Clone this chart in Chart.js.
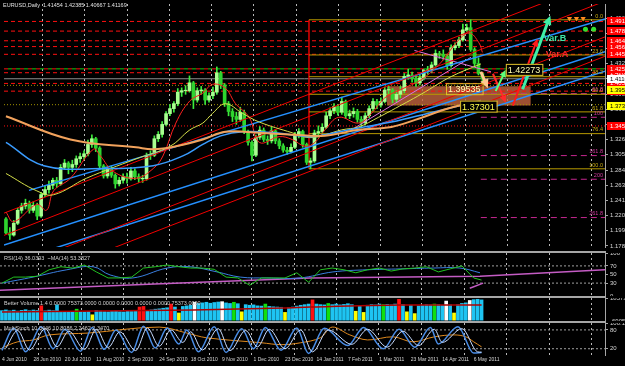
<!DOCTYPE html>
<html>
<head>
<meta charset="utf-8">
<title>EURUSD Daily</title>
<script src="https://cdn.jsdelivr.net/npm/chart.js@4.4.1/dist/chart.umd.min.js"></script>
<style>
  body { margin: 0; background: #000; }
  #wrap { position: relative; width: 625px; height: 366px; background: #000; overflow: hidden; }
  #wrap canvas { position: absolute; left: 0; }
  .sep { position: absolute; left: 0; width: 606px; height: 2px; background: #a6a6a6; }
</style>
</head>
<body>
<div id="wrap">
  <canvas id="mainChart" width="625" height="251" style="top:0"></canvas>
  <div class="sep" style="top:251px"></div>
  <canvas id="rsiChart" width="625" height="43" style="top:253px"></canvas>
  <div class="sep" style="top:296px"></div>
  <canvas id="volChart" width="625" height="23" style="top:298px"></canvas>
  <div class="sep" style="top:321px"></div>
  <canvas id="stoChart" width="625" height="43" style="top:323px"></canvas>
</div>
<script>
// one candle = two trading days, slot 0 = 4 Jun 2010
const dateLabels = ['4 Jun 2010','28 Jun 2010','20 Jul 2010','11 Aug 2010','2 Sep 2010','24 Sep 2010','18 Oct 2010','9 Nov 2010','1 Dec 2010','23 Dec 2010','14 Jan 2011','7 Feb 2011','1 Mar 2011','23 Mar 2011','14 Apr 2011','6 May 2011'];
const labelSlots = [0,8,16,24,32,40,48,56,64,72,80,88,96,104,112,120];
const gridSlots = [9.4,20.2,31.0,41.9,52.7,63.5,74.3,85.1,95.9,106.7,117.6,128.4,139.2,150.0];

const firstOpen = 1.2160;
const closes = [1.1965,1.1935,1.2100,1.2280,1.2340,1.2380,1.2280,1.2350,1.2200,1.2500,
1.2570,1.2630,1.2700,1.2650,1.2880,1.2940,1.2880,1.2920,1.3000,1.3030,
1.3070,1.3200,1.3280,1.3150,1.2900,1.2760,1.2870,1.2770,1.2650,1.2700,
1.2750,1.2720,1.2830,1.2750,1.2720,1.2720,1.3050,1.3050,1.3280,1.3340,
1.3480,1.3630,1.3700,1.3770,1.3930,1.3950,1.3950,1.4060,1.3820,1.3950,
1.3960,1.3820,1.3880,1.3930,1.4200,1.4030,1.3770,1.3660,1.3590,1.3550,
1.3650,1.3380,1.3230,1.3050,1.3300,1.3400,1.3270,1.3250,1.3390,1.3250,
1.3180,1.3120,1.3100,1.3160,1.3330,1.3380,1.3200,1.2950,1.2970,1.3360,
1.3380,1.3440,1.3600,1.3670,1.3730,1.3650,1.3800,1.3600,1.3630,1.3660,
1.3550,1.3500,1.3600,1.3700,1.3800,1.3750,1.3800,1.3960,1.3960,1.3830,
1.3900,1.3950,1.4150,1.4170,1.4120,1.4060,1.4130,1.4230,1.4240,1.4310,
1.4470,1.4460,1.4430,1.4300,1.4550,1.4580,1.4660,1.4800,1.4830,1.4525,
1.4330,1.4190,1.4117];
const highs = [1.2180,1.2040,1.2140,1.2310,1.2380,1.2436,1.2410,1.2400,1.2380,1.2530,
1.2620,1.2690,1.2730,1.2740,1.2920,1.2990,1.2960,1.2980,1.3040,1.3080,
1.3110,1.3260,1.3333,1.3300,1.3170,1.2920,1.2900,1.2900,1.2790,1.2740,
1.2790,1.2800,1.2880,1.2860,1.2790,1.2770,1.3080,1.3110,1.3320,1.3380,
1.3520,1.3660,1.3760,1.3800,1.3980,1.3990,1.4020,1.4157,1.4080,1.3990,
1.4010,1.3980,1.3920,1.4000,1.4282,1.4220,1.4050,1.3800,1.3700,1.3650,
1.3720,1.3680,1.3400,1.3250,1.3330,1.3450,1.3430,1.3320,1.3440,1.3410,
1.3280,1.3210,1.3160,1.3210,1.3370,1.3420,1.3400,1.3220,1.3010,1.3400,
1.3460,1.3490,1.3650,1.3710,1.3770,1.3760,1.3860,1.3820,1.3680,1.3710,
1.3690,1.3590,1.3640,1.3740,1.3840,1.3830,1.3850,1.4000,1.4010,1.3980,
1.3950,1.4010,1.4190,1.4250,1.4210,1.4150,1.4170,1.4250,1.4290,1.4350,
1.4520,1.4500,1.4520,1.4460,1.4590,1.4620,1.4700,1.4880,1.4880,1.4940,
1.4550,1.4410,1.4200];
const lows = [1.1950,1.1876,1.1920,1.2080,1.2240,1.2300,1.2240,1.2250,1.2150,1.2180,
1.2470,1.2520,1.2580,1.2600,1.2630,1.2850,1.2790,1.2820,1.2880,1.2950,
1.2990,1.3040,1.3160,1.3100,1.2870,1.2730,1.2730,1.2740,1.2590,1.2620,
1.2660,1.2660,1.2700,1.2710,1.2670,1.2670,1.2700,1.2990,1.3030,1.3240,
1.3300,1.3460,1.3600,1.3650,1.3740,1.3870,1.3900,1.3930,1.3700,1.3790,
1.3900,1.3760,1.3790,1.3840,1.3900,1.3980,1.3730,1.3600,1.3520,1.3480,
1.3520,1.3350,1.3190,1.2969,1.3030,1.3270,1.3240,1.3200,1.3220,1.3210,
1.3140,1.3090,1.3060,1.3080,1.3140,1.3290,1.3160,1.2920,1.2860,1.2950,
1.3300,1.3330,1.3420,1.3560,1.3630,1.3610,1.3620,1.3560,1.3560,1.3580,
1.3510,1.3430,1.3470,1.3570,1.3670,1.3700,1.3720,1.3780,1.3910,1.3780,
1.3790,1.3850,1.3920,1.4110,1.4070,1.4010,1.4030,1.4100,1.4180,1.4200,
1.4290,1.4400,1.4380,1.4250,1.4280,1.4520,1.4550,1.4640,1.4780,1.4500,
1.4290,1.4170,1.4060];

// moving averages (slot, price)
const maSlowSlots = [0,16.5,33.3,37.7,43.5,50.4,56.2,64.9,73.3,81.7,90.3,98.7,104.6,113.2,121.6];
const maSlow = [1.3593,1.3269,1.3160,1.3133,1.3174,1.3269,1.3377,1.3363,1.3336,1.3323,1.3404,1.3444,1.3539,1.3701,1.3809];
const maMidSlots = [0,9.7,25,37.7,45.3,50.4,55,60.6,69,77.6,81.7,90.3,98.7,109,121.6];
const maMid = [1.3228,1.2904,1.2863,1.2904,1.3040,1.3200,1.3320,1.3377,1.3363,1.3309,1.3336,1.3431,1.3512,1.3647,1.3809];
const ma50Slots = [0,7.9,12.2,20.6,33.3,42,47.1,50.4,52.9,56.2,60.6,64.9,73.3,77.6,81.7,86,90.3,95.4,98.7,106.4,114,121.6];
const ma50 = [1.2795,1.2552,1.2498,1.2728,1.2998,1.3174,1.3404,1.3498,1.3633,1.3768,1.3633,1.3512,1.3363,1.3295,1.3336,1.3404,1.3444,1.3579,1.3674,1.3904,1.4147,1.4323];
const maFastSlots = [0,2,7.9,10.4,12.2,16.5,22.4,24.2,27.5,33.3,37.7,40.2,43.5,47.1,50.4,52.9,56.2,58.8,62.3,64.9,70,73.3,76.6,79.1,81.7,85.2,90.3,93.6,97,101.3,106.4,111.5,115.3,118.6,121.1,122];
const maFast = [1.2255,1.2120,1.2363,1.2282,1.2552,1.2728,1.3133,1.3039,1.2822,1.2728,1.2863,1.3039,1.3498,1.3809,1.3917,1.4039,1.3985,1.3768,1.3579,1.3228,1.3309,1.3269,1.3174,1.3228,1.3404,1.3579,1.3498,1.3633,1.3850,1.3971,1.4106,1.4350,1.4620,1.4755,1.4620,1.4485];

// trend lines [slotA, priceA, slotB, priceB]
const redChannel = [[-0.5,1.2241,153.4,1.5512],[-0.5,1.1931,153.4,1.5201],[-0.5,1.1431,153.4,1.4701],[-0.5,1.1160,153.4,1.4431]];
const blueChannel = [[5.9,1.2559,153.4,1.4951],[-0.5,1.1796,153.4,1.4493],[-0.5,1.1525,153.4,1.4223]];
const pinkLines = [[88.5,1.3404,119.1,1.4417],[104.6,1.4512,124.2,1.4214]];
const fibAnchorSlot = 77.6;

// horizontal levels
const redLevels = [1.4917,1.4782,1.4647,1.4566,1.4458,1.4201,1.4052,1.3944];
const redDotted = [1.3458];
const greenRedLevel = 1.4255;
const oliveDotted = [1.4025,1.3755];
const bidPrice = 1.41169;

const fibHigh = 1.4940, fibLow = 1.2860;
const fibLevels = [0,23.6,38.2,50,61.8,76.4,100];
const fibLabels = ['0.0','23.6','38.2','50.0','61.8','76.4','100.0'];
const expBase = 1.4444, expStep = 0.0865, expStartSlot = 121.6;
const expLevels = [61.8,100,161.8,200,261.8];
const expLabels = ['61.8','100','161.8','200','261.8'];

const zoneSlots = [97.5,134.4];
const zoneTop = 1.4012, zoneBottom = 1.3742;

const noteTexts = ['1.42273','1.39535','1.37301'];
const noteSlots = [128,112.7,116.3];
const notePrices = [1.4241,1.3971,1.3728];
const varTexts = ['Var.B','Var.A'];
const varSlots = [137.7,138.2];
const varPrices = [1.4674,1.4458];
const arrowSegs = [[132.3,1.3971,139.4,1.4998],[129.8,1.3741,136.1,1.4674],[124.7,1.4187,128.0,1.3782],[121.6,1.4215,123.4,1.3985],[125.4,1.3944,128.0,1.4241]];
const topArrowSlots = [144.3,146.1,147.8], topArrowPrice = 1.4958;
const dotSlots = [148.4,150.5], dotPrice = 1.4809;

const priceTicks = [1.17830,1.19950,1.22070,1.24190,1.26310,1.28430,1.30550,1.32670,1.34790,1.36910,1.39030,1.41150,1.43270,1.45390,1.47510,1.49630];
const PRICE_MIN = 1.17685, PRICE_MAX = 1.51604;

// RSI panel
const rsiSlots = [0,3,6,9,12,15,18,21,24,27,30,33,36,39,42,45,48,51,54,57,60,63,66,69,72,75,78,81,84,87,90,93,96,99,102,105,108,111,114,117,120,122];
const rsiVals = [30,44,44,46,61,68,65,72,56,42,42,44,65,68,72,68,65,65,62,44,42,25,42,42,42,54,32,61,65,61,54,61,65,58,63,65,68,56,63,70,42,37];
const rsiMaSlots = [0,7.9,16.5,23.2,27.5,33.3,42,47.8,54.7,60.6,67.4,75.8,84.2,92.9,101.3,109.7,116.5,121.6];
const rsiMaVals = [30,44,61,68,49,42,65,68,56,44,42,42,56,61,63,65,65,54];
const rsiSlowSlots = [-0.5,38.9,78.4,121.6,153.4];
const rsiSlowVals = [13.5,28,42,46,61];
const rsiSlow2Slots = [119,122.4];
const rsiSlow2Vals = [18,30];
const rsiTicks = [0,30,50,70,100];

// volume panel (thousands)
const volK = [80,86,78,84,76,82,88,79,85,81,
120,78,84,80,128,
72,68,74,70,92,71,69,73,
45,
80,76,72,70,74,78,71,69,75,73,77,
110,115,
82,86,92,95,100,104,
135,110,60,115,120,125,150,
140,145,150,142,148,152,155,145,140,150,138,70,
130,125,128,120,118,135,115,112,110,108,65,
105,110,118,125,130,135,170,135,130,128,140,
130,135,128,132,138,130,75,120,65,
125,130,128,135,130,132,128,135,175,130,70,125,55,
120,125,130,128,135,130,125,160,128,60,130,140,145,165,
172,175,170];
const volRed = [10,35,36,43,79,101];
const volGreen = [19,59,67,83,97,110];
const volYellow = [23,45,61,72,90,92,103,105,115];
const volWhite = [49,56,113,119];
const volMaSlots = [0,48.6,71.5,78.4,101.3,122];
const volMaK = [69,86,102,110,127,127];
const volTicks = [-6.9051,185.737];
const volTickLabels = ['-6905.1','185737.0'];

// stochastic panel
const kSlots = [0,3,6,10,13,16,20,23,26,29,33,36,39,42,45,47,50,54,57,61,64,67,71,75,78,82,88,92,97,101,105,109,111,116,120,122];
const kVals = [15,85,10,90,20,82,12,88,18,80,8,92,22,86,35,80,10,90,8,84,20,88,15,86,5,85,30,88,20,82,25,88,35,90,6,8];
const dSlots = [1,4,7,11,14,17,21,24,27,30,34,37,40,43,46,48,51,55,58,62,65,68,72,76,79,83,89,93,98,102,106,110,112,117,121,122];
const dVals = [22,78,16,84,26,76,18,82,24,74,14,86,28,80,40,74,16,84,14,78,26,82,20,80,10,80,34,82,25,76,30,82,40,84,10,9];
const slowStoSlots = [0,4,8,12,22,40,47,52,66,71,76,81,84,88.5,93,99.5,104.5,110,115,118,120,122];
const slowStoVals = [23,42,48,64,70,89,70,55,39,33,39,55,89,64,48,58,42,58,64,58,42,26];
const stoTicks = [20,80,100];

const X_MIN = -0.5, X_MAX = 153.4, AXIS_W = 20;
const FONT = 'Liberation Sans';

// ---------- helpers ----------
const pts = (xs, ys) => xs.map((x, i) => ({x: x, y: ys[i]}));
const seg = a => [{x: a[0], y: a[1]}, {x: a[2], y: a[3]}];
const flat = (p, a, b) => [{x: a === undefined ? X_MIN : a, y: p}, {x: b === undefined ? X_MAX : b, y: p}];

function lineDs(data, color, width, extra) {
  return Object.assign({type: 'line', data: data, borderColor: color, borderWidth: width,
    pointRadius: 0, fill: false, tension: 0}, extra || {});
}

function gridX() {
  return {
    type: 'linear', min: X_MIN, max: X_MAX, offset: false,
    afterBuildTicks: s => { s.ticks = gridSlots.map(v => ({value: v})); },
    afterFit: s => { s.height = 0; s.paddingLeft = 0; s.paddingRight = 0; },
    ticks: {display: false},
    grid: {color: '#b8b8b8', lineWidth: 1, drawTicks: false, offset: false},
    border: {display: false, dash: [2, 3]}
  };
}

function rightY(min, max, ticks, fmt) {
  return {
    type: 'linear', position: 'right', min: min, max: max,
    afterBuildTicks: s => { s.ticks = ticks.map(v => ({value: v})); },
    afterFit: s => { s.width = AXIS_W; s.paddingTop = 0; s.paddingBottom = 0; },
    ticks: {color: '#d6d6d6', font: {size: 6, family: FONT}, padding: 2, autoSkip: false, callback: fmt},
    grid: {drawOnChartArea: false, drawTicks: true, tickLength: 3, tickColor: '#a6a6a6'},
    border: {display: true, color: '#a6a6a6', width: 1}
  };
}

const baseOptions = (scales, title) => ({
  responsive: false, animation: false, devicePixelRatio: 1,
  layout: {padding: 0},
  plugins: {legend: {display: false}, tooltip: {enabled: false}, panelTitle: {text: title}},
  scales: scales
});

const panelTitle = {
  id: 'panelTitle',
  afterDraw(chart, args, opts) {
    if (!opts.text) return;
    const ctx = chart.ctx;
    ctx.save();
    ctx.font = '5.5px ' + FONT;
    ctx.fillStyle = '#d0d0d0';
    ctx.textBaseline = 'top';
    ctx.fillText(opts.text, 4, 3);
    ctx.restore();
  }
};

function drawArrow(ctx, x1, y1, x2, y2, color, width) {
  const ang = Math.atan2(y2 - y1, x2 - x1), head = 4 + width * 2;
  ctx.strokeStyle = color; ctx.fillStyle = color; ctx.lineWidth = width;
  ctx.beginPath();
  ctx.moveTo(x1, y1);
  ctx.lineTo(x2 - Math.cos(ang) * head * 0.6, y2 - Math.sin(ang) * head * 0.6);
  ctx.stroke();
  ctx.beginPath();
  ctx.moveTo(x2, y2);
  ctx.lineTo(x2 - head * Math.cos(ang - 0.45), y2 - head * Math.sin(ang - 0.45));
  ctx.lineTo(x2 - head * Math.cos(ang + 0.45), y2 - head * Math.sin(ang + 0.45));
  ctx.closePath();
  ctx.fill();
}

// ---------- main price panel ----------
const opens = closes.map((c, i) => i === 0 ? firstOpen : closes[i - 1]);
const wickData = closes.map((c, i) => ({x: i, y: [lows[i], highs[i]]}));
const bodyData = closes.map((c, i) => {
  const lo = Math.min(opens[i], c);
  const hi = Math.max(Math.max(opens[i], c), lo + 0.0007);
  return {x: i, y: [lo, hi]};
});
const bodyColors = closes.map((c, i) => c >= opens[i] ? '#a8ff90' : '#2ed42e');

const mainSets = [];
// zone rectangle (bottom of stack)
mainSets.push(lineDs(flat(zoneTop, zoneSlots[0], zoneSlots[1]), 'rgba(0,0,0,0)', 0,
  {fill: '+1', backgroundColor: 'rgba(196,100,62,0.80)', order: 100}));
mainSets.push(lineDs(flat(zoneBottom, zoneSlots[0], zoneSlots[1]), 'rgba(0,0,0,0)', 0, {order: 99}));

redLevels.forEach(p => mainSets.push(lineDs(flat(p), '#ff1010', 1, {borderDash: [4, 3], order: 90})));
redDotted.forEach(p => mainSets.push(lineDs(flat(p), '#ff1010', 1, {borderDash: [1, 2], order: 90})));
mainSets.push(lineDs(flat(greenRedLevel), '#ff1010', 1, {borderDash: [4, 4], order: 90}));
mainSets.push(lineDs(flat(greenRedLevel), '#10d010', 1, {borderDash: [4, 4], borderDashOffset: 4, order: 90}));
oliveDotted.forEach(p => mainSets.push(lineDs(flat(p), '#a09000', 1, {borderDash: [1, 2], order: 90})));
mainSets.push(lineDs(flat(bidPrice), '#8c8c8c', 1, {order: 90}));

fibLevels.forEach(l => mainSets.push(lineDs(flat(fibHigh - (fibHigh - fibLow) * l / 100, fibAnchorSlot),
  '#b89a00', 1, {order: 80})));
expLevels.forEach(l => mainSets.push(lineDs(flat(expBase - expStep * l / 100, expStartSlot),
  '#c4268e', 1, {borderDash: [6, 4], order: 80})));
mainSets.push(lineDs([{x: fibAnchorSlot, y: fibHigh}, {x: fibAnchorSlot, y: fibLow}], '#e00000', 1.5, {order: 80}));

// candles
mainSets.push({type: 'bar', data: wickData, backgroundColor: '#3cec3c', barThickness: 1, grouped: false, order: 60});
mainSets.push({type: 'bar', data: bodyData, backgroundColor: bodyColors, barThickness: 3, grouped: false, order: 59});

redChannel.forEach(a => mainSets.push(lineDs(seg(a), '#f00000', 1, {order: 40})));
blueChannel.forEach(a => mainSets.push(lineDs(seg(a), '#2590ff', 1.5, {order: 40})));
pinkLines.forEach(a => mainSets.push(lineDs(seg(a), '#e070e0', 1, {order: 40})));

mainSets.push(lineDs(pts(maSlowSlots, maSlow), '#f2a25c', 2, {tension: 0.4, order: 30}));
mainSets.push(lineDs(pts(maMidSlots, maMid), '#3a9cff', 1.5, {tension: 0.4, order: 30}));
mainSets.push(lineDs(pts(ma50Slots, ma50), '#d6e04a', 1, {tension: 0.4, order: 30}));
mainSets.push(lineDs(pts(maFastSlots, maFast), '#ff2020', 1, {tension: 0.4, order: 30}));

mainSets.push(lineDs(topArrowSlots.map(s => ({x: s, y: topArrowPrice})), '#ff8a20', 0,
  {showLine: false, pointRadius: 3, pointStyle: 'triangle', rotation: 180, pointBackgroundColor: '#ff8a20', pointBorderWidth: 0, order: 5}));
mainSets.push(lineDs(dotSlots.map(s => ({x: s, y: dotPrice})), '#30e030', 0,
  {showLine: false, pointRadius: 2.5, pointBackgroundColor: '#30e030', pointBorderWidth: 0, order: 5}));

const overlayMain = {
  id: 'overlayMain',
  afterDatasetsDraw(chart) {
    const ctx = chart.ctx, X = chart.scales.x, Y = chart.scales.y;
    ctx.save();
    // fib labels
    ctx.font = '5.5px ' + FONT;
    ctx.textAlign = 'right';
    ctx.textBaseline = 'bottom';
    fibLevels.forEach((l, i) => {
      ctx.fillStyle = '#c8aa10';
      ctx.fillText(fibLabels[i], X.right - 2, Y.getPixelForValue(fibHigh - (fibHigh - fibLow) * l / 100) - 1);
    });
    expLevels.forEach((l, i) => {
      ctx.fillStyle = '#d23a9e';
      ctx.fillText(expLabels[i], X.right - 2, Y.getPixelForValue(expBase - expStep * l / 100) - 1);
    });
    // arrows
    const aCol = ['#3ef0a8', '#ff1a1a', '#ff2a2a', '#ffc890', '#5cff7a'];
    const aW = [3, 2, 2, 3, 2];
    arrowSegs.forEach((a, i) => drawArrow(ctx, X.getPixelForValue(a[0]), Y.getPixelForValue(a[1]),
      X.getPixelForValue(a[2]), Y.getPixelForValue(a[3]), aCol[i], aW[i]));
    // boxed price notes
    ctx.font = '9px ' + FONT;
    ctx.textAlign = 'left';
    ctx.textBaseline = 'middle';
    noteTexts.forEach((t, i) => {
      const x = X.getPixelForValue(noteSlots[i]), y = Y.getPixelForValue(notePrices[i]);
      const w = ctx.measureText(t).width + 4;
      if (i !== 1) { ctx.fillStyle = '#000'; ctx.fillRect(x, y - 6, w, 12); }
      ctx.strokeStyle = '#e2c22a'; ctx.lineWidth = 1;
      ctx.strokeRect(x + 0.5, y - 5.5, w, 11);
      ctx.fillStyle = i === 2 ? '#ffff50' : '#ffffb0';
      ctx.fillText(t, x + 2, y + 0.5);
    });
    // Var labels
    ctx.font = 'bold 9px ' + FONT;
    varTexts.forEach((t, i) => {
      ctx.fillStyle = i === 0 ? '#3ee6a6' : '#ff2a2a';
      ctx.fillText(t, X.getPixelForValue(varSlots[i]), Y.getPixelForValue(varPrices[i]));
    });
    // title
    ctx.font = '5.5px ' + FONT;
    ctx.fillStyle = '#e0e0e0';
    ctx.textBaseline = 'top';
    ctx.fillText('EURUSD,Daily  1.41454 1.42385 1.40667 1.41169', 3, 3);
    ctx.restore();
  },
  afterDraw(chart) {
    const ctx = chart.ctx, X = chart.scales.x, Y = chart.scales.y;
    ctx.save();
    ctx.font = '6px ' + FONT;
    ctx.textAlign = 'left';
    ctx.textBaseline = 'middle';
    const box = (p, bg, fg) => {
      const y = Math.round(Y.getPixelForValue(p));
      ctx.fillStyle = bg; ctx.fillRect(X.right + 2, y - 4, AXIS_W, 8);
      ctx.fillStyle = fg; ctx.fillText(p.toFixed(5), X.right + 5, y);
    };
    redLevels.concat(redDotted, [greenRedLevel]).forEach(p => box(p, '#ff0000', '#ffffff'));
    box(bidPrice, '#ffffff', '#000000');
    box(1.39535, '#ffff00', '#000000');
    box(1.37301, '#ffff00', '#000000');
    ctx.restore();
  }
};

new Chart(document.getElementById('mainChart'), {
  type: 'line',
  data: {datasets: mainSets},
  options: baseOptions({x: gridX(), y: rightY(PRICE_MIN, PRICE_MAX, priceTicks, v => v.toFixed(5))}, ''),
  plugins: [overlayMain]
});

// ---------- RSI panel ----------
new Chart(document.getElementById('rsiChart'), {
  type: 'line',
  data: {datasets: [
    lineDs(pts(rsiSlots, rsiVals), '#22c222', 1, {order: 1}),
    lineDs(pts(rsiMaSlots, rsiMaVals), '#3a7fe0', 1, {tension: 0.4, order: 2}),
    lineDs(pts(rsiSlowSlots, rsiSlowVals), '#c45cc4', 1.5, {order: 3}),
    lineDs(pts(rsiSlow2Slots, rsiSlow2Vals), '#c45cc4', 1.5, {order: 3}),
    lineDs(flat(70), '#a0a0a0', 1, {borderDash: [2, 2], order: 9}),
    lineDs(flat(30), '#a0a0a0', 1, {borderDash: [2, 2], order: 9})
  ]},
  options: baseOptions({x: gridX(), y: rightY(0, 100, rsiTicks, v => String(v))},
    'RSI(14) 36.0393  ~MA(14) 53.3827'),
  plugins: [panelTitle]
});

// ---------- volume panel ----------
const volColors = volK.map((v, i) => volRed.includes(i) ? '#ff1010' : volGreen.includes(i) ? '#10e010' :
  volYellow.includes(i) ? '#ffff00' : volWhite.includes(i) ? '#ffffff' : '#1ec4f2');
new Chart(document.getElementById('volChart'), {
  type: 'line',
  data: {datasets: [
    lineDs(pts(volMaSlots, volMaK), '#b00000', 1.5, {tension: 0.3, order: 1}),
    {type: 'bar', data: pts(volK.map((v, i) => i), volK), backgroundColor: volColors, barThickness: 3, grouped: false, order: 2}
  ]},
  options: baseOptions({x: gridX(), y: rightY(volTicks[0], volTicks[1], volTicks, (v, i) => volTickLabels[i])},
    'Better Volume 1.4 0.0000 75373.0000 0.0000 0.0000 0.0000 0.0000 75373.0000'),
  plugins: [panelTitle]
});

// ---------- stochastic panel ----------
const stoScales = {
  x: gridX(),
  xl: {
    type: 'linear', min: X_MIN, max: X_MAX, position: 'bottom', offset: false,
    afterBuildTicks: s => { s.ticks = labelSlots.map(v => ({value: v})); },
    afterFit: s => { s.height = 11; s.paddingLeft = 0; s.paddingRight = 0; },
    ticks: {autoSkip: false, maxRotation: 0, align: 'start', padding: 2, color: '#d6d6d6',
      font: {size: 5, family: FONT}, callback: (v, i) => dateLabels[i]},
    grid: {display: false, drawTicks: false},
    border: {display: false}
  },
  y: rightY(0, 102, stoTicks, v => v === 100 ? '100.1751' : String(v))
};
new Chart(document.getElementById('stoChart'), {
  type: 'line',
  data: {datasets: [
    lineDs(pts(dSlots, dVals), '#c8dcff', 1, {cubicInterpolationMode: 'monotone', order: 1}),
    lineDs(pts(kSlots, kVals), '#4a8de6', 1.5, {cubicInterpolationMode: 'monotone', order: 2}),
    lineDs(pts(slowStoSlots, slowStoVals), '#e08a1e', 1, {tension: 0.35, order: 3}),
    lineDs(flat(80), '#a0a0a0', 1, {borderDash: [2, 2], order: 9}),
    lineDs(flat(20), '#a0a0a0', 1, {borderDash: [2, 2], order: 9})
  ]},
  options: baseOptions(stoScales, 'MultiStoch 10.0446 10.8086 2.2462 2.3470'),
  plugins: [panelTitle]
});
</script>
</body>
</html>
